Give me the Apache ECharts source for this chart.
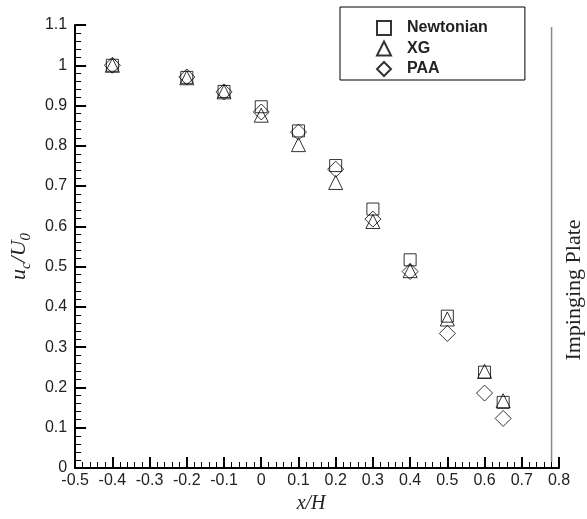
<!DOCTYPE html>
<html>
<head>
<meta charset="utf-8">
<script src="https://cdn.jsdelivr.net/npm/echarts@6/dist/echarts.min.js"></script>
<style>
html,body{margin:0;padding:0;background:#fff;}
#chart{width:587px;height:519px;}
</style>
</head>
<body>
<div id="chart"></div>
<script>
// x/H positions
var xPos = [-0.4, -0.2, -0.1, 0, 0.1, 0.2, 0.3, 0.4, 0.5, 0.6, 0.65];
// u_c/U_0 values
var newtonian = [1.0, 0.970, 0.935, 0.897, 0.837, 0.751, 0.643, 0.517, 0.377, 0.238, 0.163];
var xg        = [1.0, 0.969, 0.934, 0.876, 0.803, 0.709, 0.612, 0.490, 0.370, 0.240, 0.167];
var paa       = [1.0, 0.971, 0.934, 0.884, 0.834, 0.742, 0.618, 0.488, 0.334, 0.186, 0.123];
// impinging plate location and extent
var plateX = 0.78;
var plateY = [0.015, 1.095];
var seriesNames = ['Newtonian', 'XG', 'PAA'];

function pairs(xs, ys) { return xs.map(function (x, i) { return [x, ys[i]]; }); }
function fmt(v) { return String(+v.toFixed(1)); }

var chart = echarts.init(document.getElementById('chart'), null, {renderer: 'canvas'});

var axisCommon = {
  axisLine: {show: true, onZero: false, lineStyle: {color: '#000', width: 2}},
  axisTick: {show: true, inside: true, length: 11, lineStyle: {color: '#000', width: 2}},
  minorTick: {show: true, splitNumber: 5, length: 6, lineStyle: {color: '#000', width: 1}},
  splitLine: {show: false},
  axisLabel: {color: '#222', fontFamily: 'Liberation Sans, Arial, sans-serif', fontSize: 16, formatter: fmt}
};

var sym = {color: 'transparent', borderColor: '#000', borderWidth: 1};
var serif = 'Liberation Serif, Times New Roman, serif';

chart.setOption({
  animation: false,
  backgroundColor: '#fff',
  grid: {left: 73, right: 28, top: 25, bottom: 50.5, containLabel: false},
  xAxis: Object.assign({
    type: 'value', min: -0.5, max: 0.8, interval: 0.1,
    name: 'x/H', nameLocation: 'middle', nameGap: 26,
    nameTextStyle: {fontFamily: serif, fontStyle: 'italic', fontSize: 20, color: '#222', padding: [0, 12, 0, 0]}
  }, axisCommon, {axisLabel: Object.assign({}, axisCommon.axisLabel, {margin: 5})}),
  yAxis: Object.assign({
    type: 'value', min: 0, max: 1.1, interval: 0.1,
    name: '{m|u}{s|c}{m|/U}{s|0}', nameLocation: 'middle', nameGap: 38, nameRotate: 90,
    nameTextStyle: {
      padding: [0, 20, 0, 0],
      rich: {
        m: {fontFamily: serif, fontStyle: 'italic', fontSize: 22, color: '#222', verticalAlign: 'bottom', lineHeight: 24},
        s: {fontFamily: serif, fontStyle: 'italic', fontSize: 15, color: '#222', verticalAlign: 'bottom', lineHeight: 18, padding: [0, 0, -4, 0]}
      }
    }
  }, axisCommon, {axisLabel: Object.assign({}, axisCommon.axisLabel, {margin: 8})}),
  legend: {
    data: seriesNames,
    orient: 'vertical',
    left: 340, top: 7,
    padding: [13, 37, 3, 36],
    itemWidth: 14, itemHeight: 14, itemGap: 4.5,
    symbolKeepAspect: true,
    borderColor: '#000', borderWidth: 1,
    textStyle: {fontFamily: 'Liberation Sans, Arial, sans-serif', fontWeight: 'bold', fontSize: 16, lineHeight: 16, color: '#222', padding: [0, 0, 0, 11]}
  },
  graphic: [{
    type: 'text',
    x: 574, y: 290,
    rotation: Math.PI / 2,
    style: {text: 'Impinging Plate', fontFamily: serif, fontSize: 22, fill: '#222', align: 'center', verticalAlign: 'middle'}
  }],
  series: [
    {name: 'Newtonian', type: 'scatter', symbol: 'rect', symbolSize: 12, symbolKeepAspect: true, itemStyle: sym, data: pairs(xPos, newtonian), z: 3},
    {name: 'XG', type: 'scatter', symbol: 'triangle', symbolSize: 14, symbolKeepAspect: true, itemStyle: sym, data: pairs(xPos, xg), z: 3},
    {name: 'PAA', type: 'scatter', symbol: 'diamond', symbolSize: 16, symbolKeepAspect: true, itemStyle: sym, data: pairs(xPos, paa), z: 3},
    {name: 'plate', type: 'line', symbol: 'none', silent: true, lineStyle: {color: '#888', width: 1.5},
     data: [[plateX, plateY[0]], [plateX, plateY[1]]], z: 2}
  ]
});
</script>
</body>
</html>
